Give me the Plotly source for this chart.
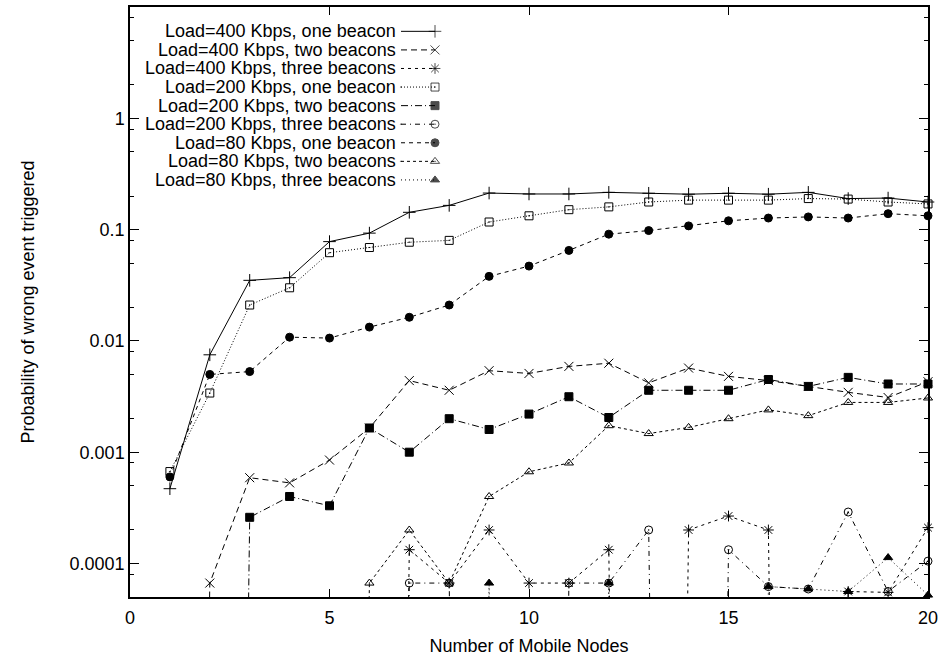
import math
import plotly.graph_objects as go

# Number of mobile nodes (x axis)
nodes = list(range(1, 21))

# Probability of a wrong event being triggered; 0 means no wrong event observed
load400_one = [4.7e-4, 0.0075, 0.035, 0.037, 0.078, 0.093, 0.143, 0.165, 0.213, 0.209,
               0.209, 0.216, 0.212, 0.208, 0.212, 0.208, 0.216, 0.19, 0.192, 0.177]
load400_two = [0, 6.67e-5, 5.9e-4, 5.3e-4, 8.5e-4, 1.65e-3, 4.4e-3, 3.6e-3, 5.4e-3, 5.1e-3,
               5.9e-3, 6.3e-3, 4.2e-3, 5.7e-3, 4.8e-3, 4.4e-3, 3.9e-3, 3.45e-3, 3.1e-3, 4.3e-3]
load400_three = [0, 0, 0, 0, 0, 0, 1.33e-4, 6.67e-5, 2.0e-4, 6.67e-5,
                 6.67e-5, 1.33e-4, 0, 2.0e-4, 2.67e-4, 2.0e-4, 0, 5.6e-5, 5.5e-5, 2.1e-4]
load200_one = [6.7e-4, 0.0034, 0.021, 0.030, 0.062, 0.069, 0.077, 0.080, 0.117, 0.133,
               0.151, 0.160, 0.177, 0.184, 0.184, 0.184, 0.190, 0.188, 0.177, 0.170]
load200_two = [0, 0, 2.6e-4, 4.0e-4, 3.3e-4, 1.65e-3, 1.0e-3, 2.0e-3, 1.6e-3, 2.2e-3,
               3.15e-3, 2.05e-3, 3.6e-3, 3.6e-3, 3.6e-3, 4.5e-3, 3.9e-3, 4.7e-3, 4.1e-3, 4.1e-3]
load200_three = [0, 0, 0, 0, 0, 0, 6.67e-5, 6.67e-5, 0, 0,
                 6.67e-5, 6.67e-5, 2.0e-4, 0, 1.33e-4, 6.2e-5, 5.9e-5, 2.9e-4, 5.6e-5, 1.05e-4]
load80_one = [6.0e-4, 0.0050, 0.0053, 0.0108, 0.0106, 0.0133, 0.0163, 0.021, 0.038, 0.047,
              0.065, 0.091, 0.098, 0.108, 0.120, 0.127, 0.130, 0.127, 0.139, 0.133]
load80_two = [0, 0, 0, 0, 0, 6.67e-5, 2.0e-4, 6.67e-5, 4.0e-4, 6.67e-4,
              8.0e-4, 1.73e-3, 1.47e-3, 1.67e-3, 2.0e-3, 2.4e-3, 2.13e-3, 2.8e-3, 2.8e-3, 3.07e-3]
load80_three = [0, 0, 0, 0, 0, 0, 0, 0, 6.67e-5, 0,
                0, 6.67e-5, 0, 0, 0, 6.2e-5, 5.9e-5, 5.6e-5, 1.13e-4, 5.2e-5]

series_names = [
    "Load=400 Kbps, one beacon",
    "Load=400 Kbps, two beacons",
    "Load=400 Kbps, three beacons",
    "Load=200 Kbps, one beacon",
    "Load=200 Kbps, two beacons",
    "Load=200 Kbps, three beacons",
    "Load=80 Kbps, one beacon",
    "Load=80 Kbps, two beacons",
    "Load=80 Kbps, three beacons",
]
series_values = [load400_one, load400_two, load400_three,
                 load200_one, load200_two, load200_three,
                 load80_one, load80_two, load80_three]

# gnuplot-like line types: (dash pattern, marker symbol, marker size)
styles = [
    ("solid", "cross-thin-open", 9),
    ("6px,4px", "x-thin-open", 9),
    ("3px,4px", "asterisk-open", 9),
    ("1px,2px", "square-open-dot", 8),
    ("7px,3px,1px,3px", "square", 8),
    ("5px,4px,1px,4px", "circle-open-dot", 8),
    ("4px,4px", "circle", 8),
    ("3px,3px", "triangle-up-open-dot", 8),
    ("1px,3px", "triangle-up", 8),
]

# zero probabilities fall off the bottom of the log axis, as in gnuplot
FLOOR = 1e-30

FONT = "Liberation Sans, Arial, Helvetica, sans-serif"
FS_TICK = 18
FS_TEXT = 18

fig = go.Figure()

for name, vals, (dash, sym, size) in zip(series_names, series_values, styles):
    y = [v if v > 0 else FLOOR for v in vals]
    fig.add_trace(go.Scatter(
        x=nodes, y=y, mode="lines+markers", name=name,
        line=dict(color="black", width=1, dash=dash),
        marker=dict(symbol=sym, size=size, color="black",
                    line=dict(color="black", width=1)),
        cliponaxis=False, showlegend=False,
    ))

# key drawn in the upper-left corner: right-aligned text, sample on the right
key_text_right = 397
key_line = (401, 435)
key_top = 29.5
key_step = 18.7
for i, (name, (dash, sym, size)) in enumerate(zip(series_names, styles)):
    yy = key_top + i * key_step
    fig.add_trace(go.Scatter(
        x=list(key_line), y=[yy, yy], mode="lines+markers",
        line=dict(color="black", width=1, dash=dash),
        marker=dict(symbol=sym, size=[0, size], color="black",
                    line=dict(color="black", width=1)),
        xaxis="x2", yaxis="y2", showlegend=False, hoverinfo="skip",
        cliponaxis=False,
    ))
    fig.add_annotation(x=key_text_right, y=yy, xref="x2", yref="y2",
                       text=name, showarrow=False, xanchor="right",
                       yanchor="middle", borderpad=0,
                       font=dict(family=FONT, size=FS_TEXT, color="black"))

minor_y = [m * 10.0 ** e for e in range(-5, 1) for m in (2, 5, 8)]

fig.update_layout(
    width=943, height=658,
    margin=dict(l=130, r=15, t=5, b=59),
    paper_bgcolor="white", plot_bgcolor="white",
    font=dict(family=FONT, size=FS_TEXT, color="black"),
    xaxis=dict(
        range=[0, 20], tickvals=[0, 5, 10, 15, 20],
        ticks="inside", ticklen=8, tickwidth=1, tickcolor="black",
        mirror="allticks", showline=True, linecolor="black", linewidth=1.5,
        showgrid=False, zeroline=False, ticklabelstandoff=4,
        tickfont=dict(family=FONT, size=FS_TICK),
        title=dict(text="Number of Mobile Nodes", standoff=12,
                   font=dict(family=FONT, size=FS_TEXT)),
    ),
    yaxis=dict(
        type="log", range=[math.log10(5e-5), 1],
        tickvals=[1e-4, 1e-3, 1e-2, 1e-1, 1],
        ticktext=["0.0001", "0.001", "0.01", "0.1", "1"],
        ticks="inside", ticklen=9, tickwidth=1, tickcolor="black",
        minor=dict(tickvals=minor_y, ticks="inside", ticklen=4,
                   tickwidth=1, tickcolor="black", showgrid=False),
        mirror="allticks", showline=True, linecolor="black", linewidth=1.5,
        showgrid=False, zeroline=False,
        tickfont=dict(family=FONT, size=FS_TICK),
        title=dict(text="Probability of wrong event triggered", standoff=30,
                   font=dict(family=FONT, size=FS_TEXT)),
    ),
    xaxis2=dict(overlaying="x", range=[130, 928], visible=False),
    yaxis2=dict(overlaying="y", range=[599, 5], visible=False),
)

fig.write_html("out.html")
